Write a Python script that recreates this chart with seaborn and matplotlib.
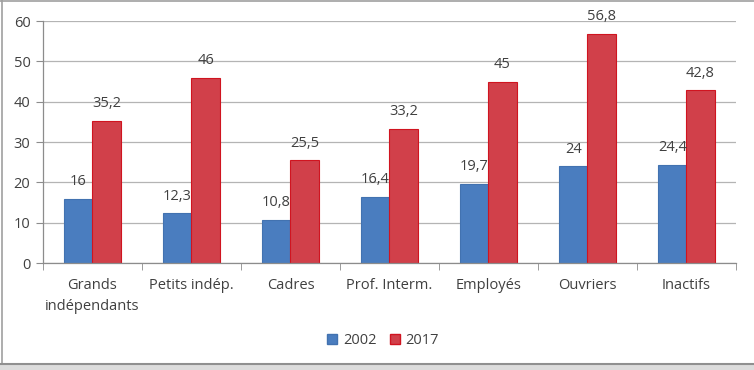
import pandas as pd
import numpy as np
import matplotlib.pyplot as plt
import matplotlib.patches as mpatches
import seaborn as sns

categories = ["Grands\nindépendants", "Petits indép.", "Cadres", "Prof. Interm.",
              "Employés", "Ouvriers", "Inactifs"]
years = ["2002", "2017"]
vals_2002 = [16, 12.3, 10.8, 16.4, 19.7, 24, 24.4]
vals_2017 = [35.2, 46, 25.5, 33.2, 45, 56.8, 42.8]
colors = {"2002": "#4a7dbf", "2017": "#d1404a"}
edges = {"2002": "#4272b0", "2017": "#d01420"}

df = pd.DataFrame({
    "cat": categories * 2,
    "year": ["2002"] * len(categories) + ["2017"] * len(categories),
    "val": vals_2002 + vals_2017,
})

sns.set_style("white")
plt.rcParams['font.family'] = ['Open Sans', 'DejaVu Sans']

fig = plt.figure(figsize=(7.54, 3.70), dpi=100)
ax = fig.add_axes([0.057, 0.289, 0.919, 0.654])

sns.barplot(data=df, x="cat", y="val", hue="year", palette=colors,
            width=0.57, gap=0, ax=ax, legend=False, saturation=1)

for bars, yr in zip(ax.containers, years):
    for b in bars:
        b.set_edgecolor(edges[yr])
        b.set_linewidth(0.8)
    labels = [f"{v:g}".replace(".", ",") for v in bars.datavalues]
    ax.bar_label(bars, labels=labels, padding=7, fontsize=10.5, color="#404040")

ax.set_ylim(0, 60)
ax.set_xlim(-0.5, 6.5)
ax.set_yticks(np.arange(0, 61, 10))
ax.yaxis.grid(True, color="#b4b4b4", linewidth=0.9)
ax.set_axisbelow(True)
ax.set_xlabel("")
ax.set_ylabel("")
for s in ["top", "right"]:
    ax.spines[s].set_visible(False)
for s in ["left", "bottom"]:
    ax.spines[s].set_color("#8c8c8c")
    ax.spines[s].set_linewidth(0.9)
ax.tick_params(axis="y", left=True, length=5, color="#8c8c8c",
               labelsize=10.5, labelcolor="#404040", pad=4)
ax.tick_params(axis="x", which="major", length=0, labelsize=10.5,
               labelcolor="#404040", pad=11)
for t in ax.get_xticklabels():
    t.set_linespacing(1.55)
ax.set_xticks(np.arange(-0.5, 7, 1), minor=True)
ax.tick_params(axis="x", which="minor", bottom=True, length=5, color="#8c8c8c")

handles = [mpatches.Patch(facecolor=colors[y], edgecolor=edges[y], label=y) for y in years]
fig.legend(handles=handles, loc="center", bbox_to_anchor=(0.508, 0.08), ncol=2,
           frameon=False, fontsize=10.5, handlelength=0.7, handleheight=0.7,
           handletextpad=0.4, columnspacing=0.9, labelcolor="#404040")

# outer frame of the picture
fig.add_artist(plt.Line2D([0.002, 0.002], [0.02, 1], color="#a0a0a0", lw=1.2))
fig.add_artist(plt.Line2D([0, 1], [0.996, 0.996], color="#a0a0a0", lw=1.2))
fig.add_artist(plt.Line2D([0, 1], [0.016, 0.016], color="#909090", lw=1.5))
fig.add_artist(mpatches.Rectangle((0, 0), 1, 0.013, transform=fig.transFigure,
                                  facecolor="#dcdcdc", edgecolor="none"))

fig.savefig("out.png", dpi=100)
